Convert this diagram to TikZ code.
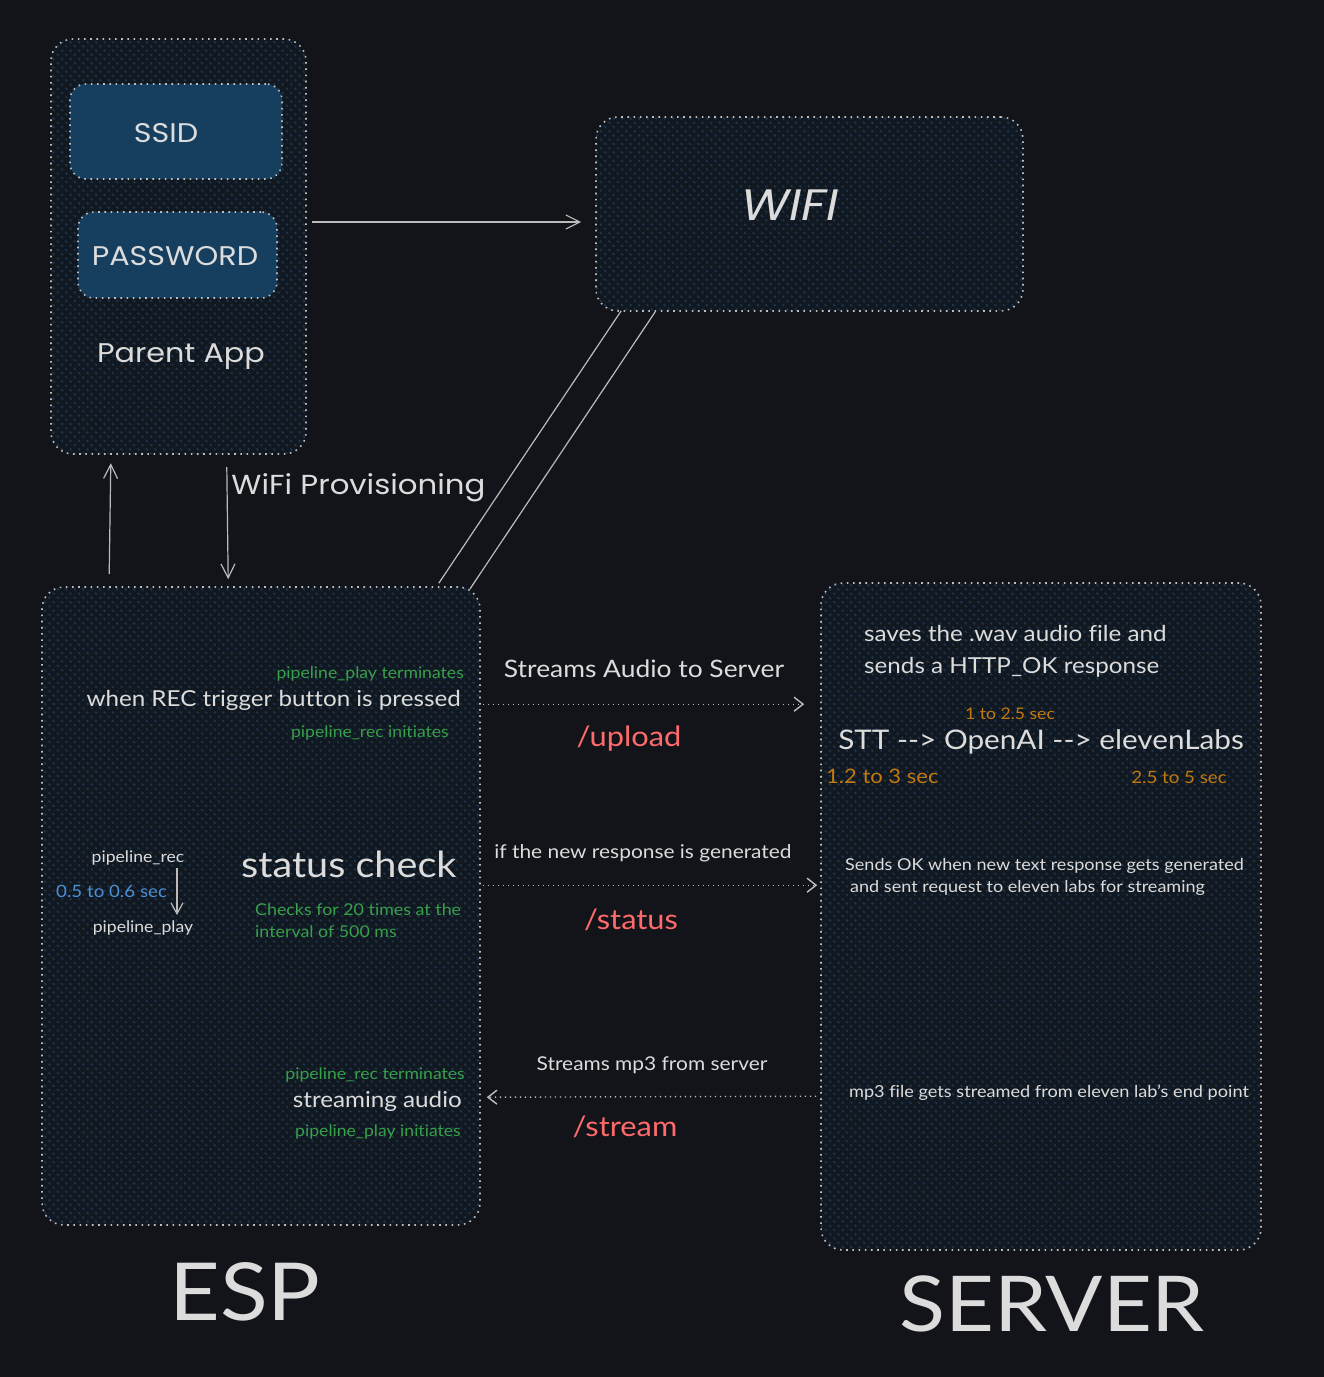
\documentclass[tikz,border=0pt]{standalone}
\usepackage{fontspec}
\setmainfont{Lato}[FakeStretch=1.1, Ligatures={NoCommon}]
\newfontfamily\hand{Poppins}[FakeStretch=1.12]
\usetikzlibrary{arrows.meta,calc,patterns.meta}
\definecolor{bgc}{HTML}{121419}
\definecolor{boxbg}{HTML}{121820}
\definecolor{hatch}{HTML}{1B3550}
\definecolor{inner}{HTML}{163F5F}
\definecolor{fg}{HTML}{DCDCDC}
\definecolor{edge}{HTML}{BEBEBE}
\definecolor{grn}{HTML}{36A04A}
\definecolor{org}{HTML}{C27A10}
\definecolor{blu}{HTML}{4B8FD6}
\definecolor{rd}{HTML}{FF6B6B}
\tikzset{
  dotline/.style={draw=edge, line width=1.6pt, dash pattern=on 1.6pt off 4.6pt},
  hbox/.style={dotline, rounded corners=22pt, inner sep=0pt,
    preaction={fill=boxbg},
    pattern={Lines[angle=45,distance=6pt,line width=2.4pt]}, pattern color=hatch},
  ibox/.style={dotline, fill=inner, rounded corners=16pt, inner sep=0pt},
  txt/.style={text=fg, inner sep=0pt},
  s16/.style={font=\fontsize{16}{20}\selectfont},
  s17/.style={font=\fontsize{16.4}{22}\selectfont},
  s19/.style={font=\fontsize{19}{24}\selectfont},
  s22/.style={font=\fontsize{22}{32}\selectfont},
  s24/.style={font=\fontsize{24}{30}\selectfont},
  s28/.style={font=\fontsize{28}{34}\selectfont},
  arr/.style={draw=fg!85!black, line width=1.2pt, -{Straight Barb[length=14pt,width=14pt]}},
  darr/.style={draw=edge, line width=1.4pt, dash pattern=on 1.4pt off 3.6pt,
    -{Straight Barb[length=9pt,width=14pt]}},
  pline/.style={draw=fg!85!black, line width=1.2pt},
}
\begin{document}
\begin{tikzpicture}[x=1pt,y=-1pt]
\fill[bgc] (0,0) rectangle (1324,1377);
\useasboundingbox (0,0) rectangle (1324,1377);

% boxes
\node[hbox, minimum width=255pt, minimum height=415pt] (parent) at (178.5,246.5) {};
\node[ibox, minimum width=212pt, minimum height=95pt] (ssid) at (176,131.5) {};
\node[ibox, minimum width=199pt, minimum height=86pt] (pwd) at (177.5,255) {};
\node[hbox, minimum width=427pt, minimum height=194pt] (wifi) at (809.5,214) {};
\node[hbox, minimum width=438pt, minimum height=638pt] (esp) at (261,906) {};
\node[hbox, minimum width=440pt, minimum height=667pt] (server) at (1041,916.5) {};

% parent app texts
\node[txt, font=\hand\fontsize{27}{34}\selectfont] (ssidt) at (166,133) {SSID};
\node[txt, font=\hand\fontsize{27}{34}\selectfont] (pwdt) at (175,256) {PASSWORD};
\node[txt, font=\hand\fontsize{27}{34}\selectfont] (papp) at (181,357) {Parent App};
\node[txt, font=\hand\itshape\fontsize{44}{50}\selectfont] (wifit) at (790,205) {WIFI};

% connectors top
\draw[arr] ($(parent.east)+(5,-24.5)$) -- ($(wifi.west)+(-14,8)$);
\draw[arr] ($(esp.north west)+(68,-12)$) -- ($(parent.south west)+(61,8)$);
\draw[arr] ($(parent.south west)+(177,12)$) -- ($(esp.north west)+(187,-7)$)
  node[pos=0.05, anchor=north west, txt, font=\hand\fontsize{27.5}{30}\selectfont, inner xsep=4pt] (prov) {WiFi Provisioning};
\draw[pline] ($(esp.north east)+(-42,-3)$) -- ($(wifi.south west)+(26,-1)$);
\draw[pline] ($(esp.north east)+(-11,3)$) -- ($(wifi.south west)+(60,0)$);

% ESP texts
\node[txt, s16, text=grn, anchor=east] (pplayterm) at (464,674) {pipeline\_play terminates};
\node[txt, s22, anchor=east] (rec) at (461,700) {when REC trigger button is pressed};
\node[txt, s16, text=grn, anchor=east] (precinit) at (449,733) {pipeline\_rec initiates};
\node[txt, s16] (prec) at (138,858) {pipeline\_rec};
\node[txt, s16] (pplay) at (143,928) {pipeline\_play};
\coordinate (pa1) at (177,868);
\coordinate (pa2) at (177,915);
\draw[draw=fg!85!black, line width=1.2pt, -{Straight Barb[length=11pt,width=12pt]}] (pa1) -- (pa2);
\node[txt, font=\fontsize{17}{22}\selectfont, text=blu, anchor=west] (lat) at (56,891) {0.5 to 0.6 sec};
\node[txt, font=\fontsize{36}{40}\selectfont, anchor=west] (status) at (241,864) {status check};
\node[txt, text=grn, anchor=north west, align=left, font=\fontsize{16.2}{22}\selectfont] (checks) at (255,903) {Checks for 20 times at the\\interval of 500 ms};
\node[txt, s16, text=grn, anchor=east] (precterm) at (465,1075) {pipeline\_rec terminates};
\node[txt, s22, anchor=east] (stream) at (462,1101) {streaming audio};
\node[txt, s16, text=grn, anchor=east] (pplayinit) at (461,1132) {pipeline\_play initiates};

% middle
\node[txt, s24] (upl) at (644,669) {Streams Audio to Server};
\draw[darr] ($(esp.north east)+(2,118)$) -- ($(server.north west)+(-16,122)$);
\node[txt, s28, text=rd] (uploadt) at (629,739) {/upload};
\node[txt, s19] (ifnew) at (643,853) {if the new response is generated};
\draw[darr] ($(esp.north east)+(2,299)$) -- ($(server.north west)+(-3,303)$);
\node[txt, s28, text=rd] (statust) at (631,920) {/status};
\node[txt, s19] (mp3) at (652,1065) {Streams mp3 from server};
\draw[darr] ($(server.north west)+(-4,514)$) -- ($(esp.north east)+(6,511)$);
\node[txt, s28, text=rd] (streamt) at (625,1127) {/stream};

% server texts
\node[txt, s22, anchor=north west, align=left] (saves) at (864,625) {saves the .wav audio file and\\sends a HTTP\_OK response};
\node[txt, s16, text=org] (t1) at (1010,714) {1 to 2.5 sec};
\node[txt, font=\fontsize{27}{34}\selectfont] (stt) at (1041,742) {STT {-}{-}> OpenAI {-}{-}> elevenLabs};
\node[txt, font=\fontsize{20}{24}\selectfont, text=org, anchor=west] (t2) at (826,776) {1.2 to 3 sec};
\node[txt, font=\fontsize{17}{22}\selectfont, text=org] (t3) at (1179,777) {2.5 to 5 sec};
\node[txt, s17, anchor=north west, align=left] (sendsok) at (845,858) {Sends OK when new text response gets generated\\\hspace*{5pt}and sent request to eleven labs for streaming};
\node[txt, font=\fontsize{16.5}{22}\selectfont] (mp3s) at (1049,1093) {mp3 file gets streamed from eleven lab's end point};

% titles
\node[txt, font=\fontsize{80}{90}\selectfont] (esptitle) at (245,1292) {ESP};
\node[txt, font=\fontsize{77}{90}\selectfont] (servertitle) at (1052,1304) {SERVER};
\end{tikzpicture}
\end{document}
